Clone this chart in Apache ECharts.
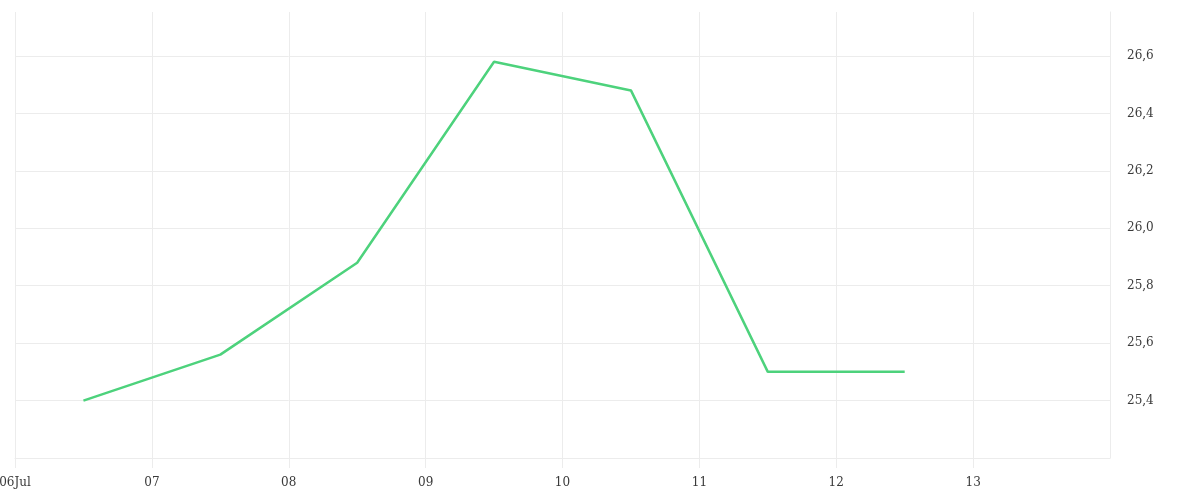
<!DOCTYPE html>
<html>
<head>
<meta charset="utf-8">
<script src="https://cdn.jsdelivr.net/npm/echarts@6/dist/echarts.min.js"></script>
<style>
  html, body { margin: 0; padding: 0; background: #fff; }
  #chart { width: 1200px; height: 500px; }
</style>
</head>
<body>
<div id="chart"></div>
<script>
// Readings taken at midday, 6 - 12 July
const DAY = 86400000;
const startDay = Date.UTC(2024, 6, 6);
const endDay = Date.UTC(2024, 6, 14);
const readingDays = [6, 7, 8, 9, 10, 11, 12];
const readingValues = [25.4, 25.56, 25.88, 26.58, 26.48, 25.5, 25.5];

const seriesData = readingDays.map((d, i) => [Date.UTC(2024, 6, d, 12), readingValues[i]]);

// Day label: first tick gets the month name too
const dayLabel = (value) => {
  const d = new Date(value);
  const dd = String(d.getUTCDate()).padStart(2, '0');
  if (value === startDay) return dd + 'Jul';
  return dd;
};

const labelFont = { fontFamily: 'DejaVu Serif', fontSize: 12, color: '#3a3a3a' };
const lineColor = '#ececec';

const chart = echarts.init(document.getElementById('chart'));

const option = {
  animation: false,
  // keep the grid where it is even if the first label pokes out on the left
  grid: { left: 15, right: 90, top: 12, bottom: 42, containLabel: false, outerBoundsMode: 'none' },
  xAxis: {
    type: 'value',
    min: startDay,
    max: endDay,
    interval: DAY,
    axisLine: { show: true, lineStyle: { color: lineColor } },
    axisTick: { show: true, length: 10, lineStyle: { color: lineColor } },
    splitLine: { show: true, lineStyle: { color: lineColor } },
    axisLabel: {
      ...labelFont,
      margin: 19,
      showMaxLabel: false,
      formatter: dayLabel
    }
  },
  yAxis: {
    type: 'value',
    position: 'right',
    min: 25.2,
    max: 26.753,
    interval: 0.2,
    axisLine: { show: true, lineStyle: { color: lineColor } },
    axisTick: { show: false },
    splitLine: { show: true, showMaxLine: false, lineStyle: { color: lineColor } },
    axisLabel: {
      ...labelFont,
      margin: 17,
      showMinLabel: false,
      showMaxLabel: false,
      formatter: (v) => v.toFixed(1).replace('.', ',')
    }
  },
  series: [{
    type: 'line',
    data: seriesData,
    showSymbol: false,
    lineStyle: { color: '#4dd27c', width: 2.5 },
    itemStyle: { color: '#4dd27c' }
  }]
};

chart.setOption(option);
</script>
</body>
</html>
